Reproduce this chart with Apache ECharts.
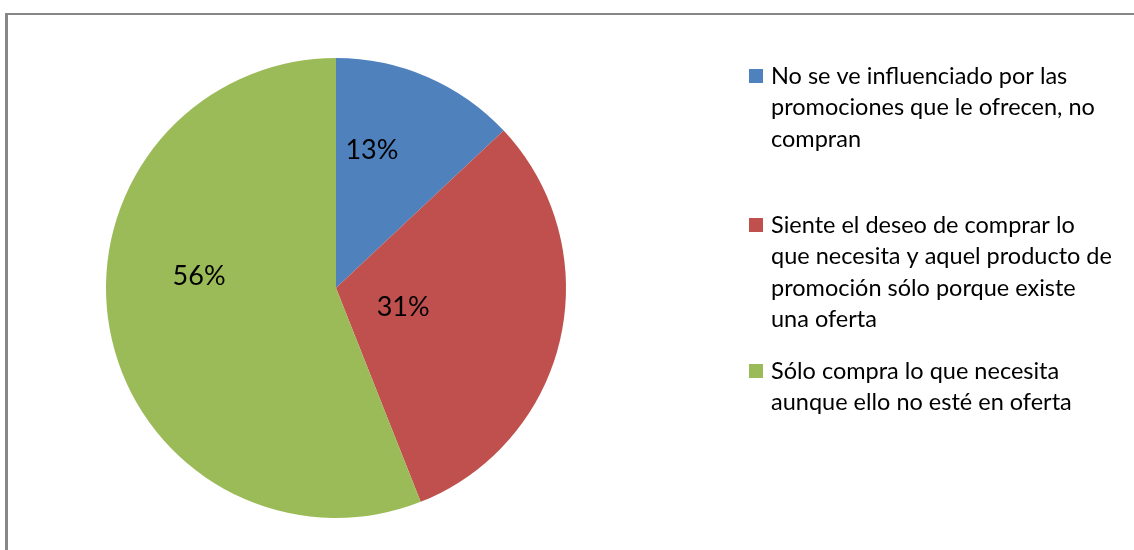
<!DOCTYPE html>
<html>
<head>
<meta charset="utf-8">
<script src="https://cdn.jsdelivr.net/npm/echarts@6/dist/echarts.min.js"></script>
<style>
  html, body { margin: 0; padding: 0; background: #fff; overflow: hidden; }
  #frame { position: absolute; left: 5px; top: 13px; width: 1200px; height: 600px;
           border-left: 3px solid #878787; border-top: 2px solid #878787; box-sizing: border-box; }
  #chart { position: absolute; left: 0; top: 0; width: 1134px; height: 550px; }
</style>
</head>
<body>
<div id="frame"></div>
<div id="chart"></div>
<script>
// Survey answers and their shares (percent)
const categories = [
  'No se ve influenciado por las promociones que le ofrecen, no compran',
  'Siente el deseo de comprar lo que necesita y aquel producto de promoción sólo porque existe una oferta',
  'Sólo compra lo que necesita aunque ello no esté en oferta'
];
const shares = [13, 31, 56];
// Legend text, broken into the lines it is shown with
const legendLines = [
  ['No se ve influenciado por las', 'promociones que le ofrecen, no', 'compran'],
  ['Siente el deseo de comprar lo', 'que necesita y aquel producto de', 'promoción sólo porque existe', 'una oferta'],
  ['Sólo compra lo que necesita', 'aunque ello no esté en oferta']
];

const colors = ['#4F81BD', '#C0504D', '#9BBB59'];
const FONT = 'Lato';
const LEGEND_SIZE = 23.5;
const LINE_H = 31.5;
const legendIconCenters = [76, 225, 371];
const labelShift = [[-11, -29], [-48, -6], [-21, -34]];

// The legend centres its text on the marker; blank lines above the text
// pull the first line level with the marker.
const legends = categories.map((name, i) => {
  const n = legendLines[i].length;
  const blank = new Array(n - 1).fill(' ');
  const blockH = (2 * n - 1) * LINE_H;
  return {
    orient: 'vertical',
    left: 749,
    top: legendIconCenters[i] - blockH / 2,
    padding: 0,
    itemWidth: 14,
    itemHeight: 14,
    icon: 'rect',
    selectedMode: false,
    data: [name],
    formatter: () => blank.concat(legendLines[i]).join('\n'),
    textStyle: {
      fontFamily: FONT,
      fontSize: LEGEND_SIZE,
      lineHeight: LINE_H,
      color: '#000',
      padding: [0, 0, 0, 3]
    }
  };
});

const chart = echarts.init(document.getElementById('chart'), null, { renderer: 'canvas' });
chart.setOption({
  animation: false,
  color: colors,
  legend: legends,
  series: [{
    type: 'pie',
    center: [336, 288],
    radius: 230,
    startAngle: 90,
    clockwise: true,
    silent: true,
    label: {
      show: true,
      position: 'inside',
      formatter: p => p.value + '%',
      fontFamily: FONT,
      fontSize: 27,
      color: '#000'
    },
    labelLine: { show: false },
    labelLayout: p => ({ dx: labelShift[p.dataIndex][0], dy: labelShift[p.dataIndex][1] }),
    itemStyle: { borderWidth: 0 },
    data: categories.map((name, i) => ({ name, value: shares[i] }))
  }]
});
</script>
</body>
</html>
